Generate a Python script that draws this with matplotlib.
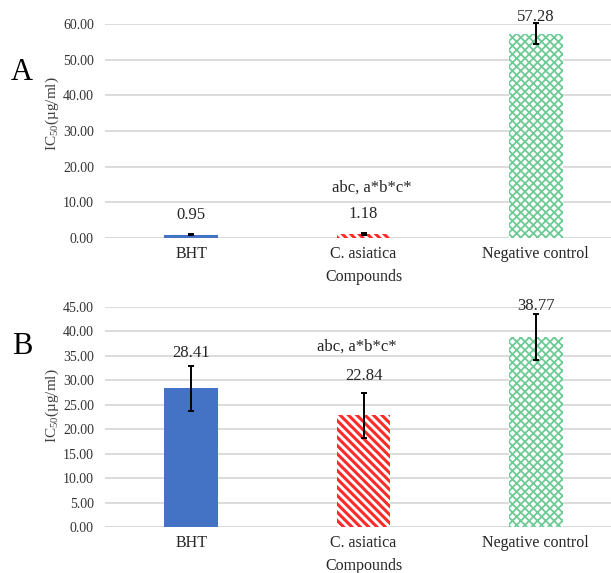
import matplotlib.pyplot as plt
import numpy as np

plt.rcParams['font.family'] = ['Liberation Serif', 'DejaVu Serif']
plt.rcParams['mathtext.fontset'] = 'custom'
plt.rcParams['mathtext.rm'] = 'Liberation Serif'
plt.rcParams['mathtext.it'] = 'Liberation Serif:italic'

# data
categories = ['BHT', 'C. asiatica', 'Negative control']
ic50_a = [0.95, 1.18, 57.28]
err_a = [0.2, 0.2, 2.9]
ic50_b = [28.41, 22.84, 38.77]
err_b = [4.6, 4.6, 4.7]
yticks_a = np.arange(0, 61, 10)
yticks_b = np.arange(0, 46, 5)
sig_text = 'abc, a*b*c*'

# styles
face = ['#4472C4', 'white', 'white']
edge = ['#4472C4', '#FF2A2A', '#6DCB95']
hatches = [None, '\\\\\\\\', 'xxxx']
hatch_lw = [1.0, 2.2, 1.3]

fig = plt.figure(figsize=(6.11, 5.73), dpi=100)
ax_a = fig.add_axes([105/611, 1 - 238/573, 517/611, 214/573])
ax_b = fig.add_axes([105/611, 1 - 527/573, 517/611, 220/573])


def draw_panel(ax, vals, errs, yticks, ymax, label_off, sig_xy, letter, letter_y, ylab_y):
    x = np.arange(len(categories))
    for i in x:
        with plt.rc_context({'hatch.linewidth': hatch_lw[i]}):
            ax.bar(x[i], vals[i], width=0.31, color=face[i], edgecolor=edge[i],
                   hatch=hatches[i], linewidth=0, zorder=2)
    ax.errorbar(x, vals, yerr=errs, fmt='none', ecolor='black', elinewidth=1.4,
                capsize=2.5, capthick=1.4, zorder=3, clip_on=False)
    for i in x:
        ax.annotate(f'{vals[i]:.2f}', (x[i], vals[i]), xytext=(0, label_off[i]),
                    textcoords='offset points', ha='center', va='center',
                    fontsize=12, color='#262626', annotation_clip=False)
    ax.text(sig_xy[0], sig_xy[1], sig_text, ha='center', va='center',
            fontsize=12, color='#262626')
    ax.set_xlim(-0.5, 2.5)
    ax.set_ylim(0, ymax)
    ax.set_yticks(yticks)
    ax.set_yticklabels([f'{t:.2f}' for t in yticks])
    ax.set_xticks(x)
    ax.set_xticklabels(categories)
    ax.yaxis.grid(True, color='#D9D9D9', linewidth=1.3, zorder=0)
    ax.set_axisbelow(True)
    for s in ax.spines.values():
        s.set_visible(False)
    ax.tick_params(axis='y', length=0, pad=8, labelsize=10, labelcolor='#333333')
    ax.tick_params(axis='x', length=0, pad=6, labelsize=11.5, labelcolor='#262626')
    ax.set_xlabel('Compounds', fontsize=11.5, color='#262626', labelpad=5)
    ax.set_ylabel(r'IC$_{50}$(µg/ml)', fontsize=11, color='#404040')
    ax.yaxis.set_label_coords(-0.085, ylab_y)
    ax.axhline(0, color='#D9D9D9', linewidth=1.3, zorder=1)
    fig.text(22/611, 1 - letter_y/573, letter, fontsize=22, ha='center', va='center')


draw_panel(ax_a, ic50_a, err_a, yticks_a, 60, [14, 14, 12], (1.05, 14.0), 'A', 72, 0.58)
draw_panel(ax_b, ic50_b, err_b, yticks_b, 45, [25, 28, 23], (0.96, 36.8), 'B', 346, 0.55)

fig.savefig('out.png', dpi=100)
